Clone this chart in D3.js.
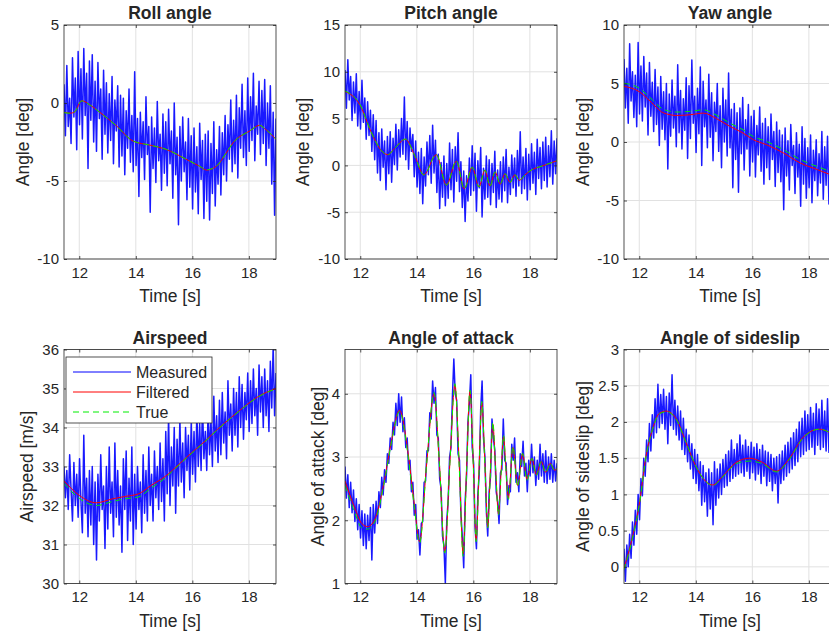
<!DOCTYPE html>
<html>
<head>
<meta charset="UTF-8">
<title></title>
<style>
body { margin: 0; background: #fff; }
text { font-family: "Liberation Sans", Arial, Helvetica, sans-serif; fill: #262626; }
</style>
</head>
<body>
<svg width="829" height="635"></svg>
<script src="https://cdn.jsdelivr.net/npm/d3@7/dist/d3.min.js"></script>
<script>
// sample times of the measured signals, 50 ms apart
var time = d3.range(151).map(function (i) { return 11.46 + i * 0.05; });
var timeRange = [11.46, 18.96];
var timeTicks = [12, 14, 16, 18];

// ---- roll
var rollTicks = [-10, -5, 0, 5];
var rollMeasured = [1.2,-2.1,2.4,-1.5,0.3,-2.6,2.9,-0.9,1.6,-3.0,3.3,
 -1.4,2.2,-2.3,3.5,-0.8,1.9,-4.2,2.7,-1.1,3.1,
 -2.5,1.4,-3.1,2.6,-1.0,0.9,-3.6,2.1,-2.0,1.3,
 -3.2,0.6,-2.4,1.7,-3.9,0.2,-1.8,1.1,-4.1,0.5,
 -3.4,0.3,-4.6,-0.5,-2.9,0.9,-3.8,-0.8,-4.4,2.0,
 -4.0,-1.0,-6.0,-0.6,-3.5,-1.2,-4.9,0.4,-3.3,-1.5,
 -7.0,-0.9,-4.2,-1.6,-5.1,0.1,-3.7,-2.0,-5.6,-0.7,
 -4.5,-1.2,-5.3,-0.4,-3.9,-1.8,-6.1,0.0,-4.6,-2.2,
 -7.8,-1.5,-5.0,-0.9,-4.4,-2.5,-6.2,-1.0,-5.4,-2.1,
 -6.8,-1.6,-5.7,-2.8,-7.1,-1.3,-4.9,-2.4,-7.4,-2.0,
 -6.3,-1.8,-7.5,-2.6,-5.8,-1.2,-6.6,-3.0,-5.2,-1.5,
 -5.9,-1.9,-4.6,-0.8,-5.0,-1.4,-3.6,0.2,-4.4,-1.1,
 -3.9,0.5,-4.8,-0.3,-2.9,1.2,-3.5,-0.5,-4.0,1.6,
 -3.1,0.4,-2.4,1.9,-3.7,-0.2,-2.0,1.4,-3.3,0.8,
 -2.6,1.5,-4.0,0.0,-2.9,1.1,-5.2,-0.6,-7.2,-1.0];
var rollKnotT = [11.46,11.7,11.85,12.08,12.4,12.73,13.32,13.9,14.5,15.08,15.67,16.26,16.5,16.85,17.2,17.44,18.02,18.38,18.6,18.96];
var rollFiltered = [-0.6,-0.65,-0.55,0.15,-0.15,-0.6,-1.47,-2.44,-2.7,-2.98,-3.5,-4.06,-4.3,-4.06,-3.2,-2.55,-1.8,-1.43,-1.7,-2.33];
var rollTrue = [-0.62,-0.66,-0.55,0.13,-0.16,-0.6,-1.48,-2.43,-2.7,-2.97,-3.5,-4.05,-4.28,-4.05,-3.2,-2.56,-1.8,-1.44,-1.7,-2.32];

// ---- pitch
var pitchTicks = [-10, -5, 0, 5, 10, 15];
var pitchMeasured = [10.2,6.1,11.3,7.0,9.5,4.8,8.9,5.6,9.8,4.2,7.9,
 3.9,9.1,4.6,7.2,2.8,6.8,3.2,5.9,1.5,5.4,
 0.6,4.8,-0.8,3.5,-1.6,3.9,-0.2,2.6,-2.6,3.1,
 -0.9,3.6,-1.8,2.9,0.1,4.4,-0.5,3.8,0.9,5.0,
 1.2,7.3,0.6,4.7,-0.4,4.0,1.5,3.3,-1.2,2.6,
 -2.3,1.4,-3.0,1.8,-4.1,0.9,-2.2,2.5,-1.0,3.2,
 -1.9,4.3,-0.8,2.7,-2.9,1.2,-4.6,0.3,-3.4,1.0,
 -4.3,0.2,-3.5,2.4,-2.6,1.7,-3.9,2.0,-1.7,3.5,
 -2.8,0.4,-4.5,-0.6,-6.0,-1.1,-3.8,0.8,-3.2,2.1,
 -2.7,1.3,-4.9,0.5,-2.4,1.9,-5.5,-0.3,-3.6,1.0,
 -3.4,0.6,-4.2,0.2,-2.9,1.5,-4.5,-0.5,-3.6,0.4,
 -3.9,0.9,-2.7,1.7,-4.0,-0.2,-3.1,1.1,-2.4,0.8,
 -3.3,1.6,-2.2,3.6,-3.0,0.9,-2.5,1.8,-3.7,1.2,
 -2.6,2.3,-1.9,1.4,-3.1,2.8,-1.4,1.9,-2.5,2.5,
 -1.6,3.0,-2.3,2.1,-1.2,3.7,-2.0,2.6,-0.9,2.9];
var pitchKnotT = [11.46,12.0,12.38,12.74,12.97,13.21,13.6,13.92,14.25,14.69,15.05,15.4,15.68,15.96,16.2,16.41,16.59,16.77,16.95,17.12,17.3,17.47,17.63,17.8,18.0,18.5,18.96];
var pitchFiltered = [7.9,6.4,3.6,1.6,1.15,1.8,2.8,1.1,-1.0,1.15,-2.1,0.45,-2.5,-0.2,-2.3,-0.5,-2.2,-0.7,-2.0,-0.9,-1.8,-1.0,-1.6,-1.1,-0.6,0.0,0.5];
var pitchTrue = [7.95,6.45,3.6,1.6,1.12,1.8,2.82,1.1,-1.02,1.18,-2.12,0.48,-2.52,-0.18,-2.32,-0.48,-2.22,-0.68,-2.02,-0.88,-1.82,-0.98,-1.62,-1.1,-0.6,0.0,0.5];

// ---- yaw
var yawTicks = [-10, -5, 0, 5, 10];
var yawMeasured = [7.1,2.9,6.3,1.6,8.4,3.5,6.0,2.1,5.7,1.3,8.5,
 2.4,6.5,1.8,7.3,3.0,5.9,0.6,6.8,2.2,5.1,
 0.9,6.2,1.5,4.7,-0.3,5.6,1.1,4.3,0.2,5.0,
 -2.3,4.1,0.5,5.3,1.2,3.9,-0.4,6.6,0.8,4.4,
 -0.6,3.7,1.0,5.5,-1.4,4.8,0.3,7.0,1.6,3.9,
 -0.9,4.6,0.7,6.4,-2.0,5.2,1.3,3.6,-0.5,5.8,
 0.4,4.2,-1.6,3.4,0.9,5.0,-0.8,3.1,-2.2,4.6,
 0.0,3.6,-1.2,5.9,-0.5,2.8,-3.9,3.3,-1.5,2.5,
 -4.3,2.9,-1.0,3.8,-2.4,1.9,-0.6,3.2,-2.9,2.2,
 -1.7,2.7,-3.0,1.4,-1.1,3.0,-2.5,1.6,-3.6,2.0,
 -2.2,1.3,-3.2,2.4,-1.5,0.9,-3.8,1.7,-2.6,1.0,
 -3.4,0.6,-5.8,1.2,-2.9,0.1,-4.1,1.5,-2.0,-0.3,
 -4.4,0.8,-3.0,-0.2,-5.5,1.3,-3.6,0.3,-4.8,-0.5,
 -3.9,0.6,-5.2,-0.7,-3.3,0.2,-4.6,-1.0,-3.5,0.9,
 -4.9,-0.4,-3.7,0.5,-5.3,-1.2,-7.0,-0.8,-4.2,-1.6];
var yawKnotT = [11.46,12.0,12.38,12.85,13.32,13.8,14.27,14.73,15.2,15.67,16.03,16.5,17.1,17.7,18.3,18.7,18.96];
var yawFiltered = [4.75,4.3,3.5,2.5,2.27,2.33,2.47,2.0,1.34,0.77,0.2,-0.23,-0.94,-1.8,-2.36,-2.73,-2.9];
var yawTrue = [5.03,4.6,3.8,2.8,2.56,2.62,2.75,2.3,1.62,1.05,0.48,0.05,-0.65,-1.5,-2.1,-2.45,-2.6];

// ---- airspeed
var airTicks = [30, 31, 32, 33, 34, 35, 36];
var airMeasured = [33.0,32.2,32.9,31.9,33.3,32.4,31.6,33.1,32.0,32.8,31.7,
 33.2,32.1,31.3,33.8,31.8,32.7,31.2,32.9,31.5,33.0,
 31.0,32.6,30.6,32.8,31.6,33.3,31.9,32.5,30.9,33.0,
 31.4,33.5,31.8,32.6,31.2,33.6,31.7,32.9,31.5,32.5,
 30.8,33.2,31.9,33.4,31.1,32.7,31.6,33.5,31.0,32.8,
 31.4,33.0,31.9,32.6,31.3,33.3,31.8,32.9,31.6,33.5,
 32.0,32.8,31.6,33.4,32.2,33.0,31.9,33.6,32.1,33.2,
 31.6,33.9,32.3,34.3,32.0,33.5,32.5,34.0,31.8,33.7,
 32.5,34.2,32.6,33.6,32.2,34.0,32.9,33.8,32.4,34.1,
 32.8,33.9,32.6,34.4,33.0,34.1,32.9,34.6,33.2,33.9,
 32.9,34.5,33.3,34.2,33.0,34.8,33.4,34.3,33.1,34.7,
 33.3,34.9,33.6,34.4,33.2,35.2,33.8,34.6,33.4,35.0,
 33.8,34.9,33.5,35.3,34.0,35.1,33.7,34.9,34.2,35.4,
 33.9,35.2,34.1,35.5,34.3,35.0,33.8,35.6,34.4,35.3,
 34.0,35.5,34.3,35.2,33.9,35.7,34.5,36.1,34.3,35.4];
var airKnotT = [11.46,12.0,12.6,13.17,13.6,14.1,14.55,15.03,15.5,15.97,16.45,16.9,17.38,17.85,18.3,18.96];
var airFiltered = [32.63,32.26,32.07,32.17,32.23,32.3,32.52,32.74,33.04,33.35,33.65,33.96,34.26,34.54,34.78,35.0];
var airTrue = [32.57,32.18,32.0,32.1,32.17,32.22,32.45,32.7,33.02,33.33,33.64,33.95,34.25,34.53,34.77,34.99];

// ---- angle of attack
var aoaTicks = [1, 2, 3, 4];
var aoaMeasured = [2.85,2.35,2.72,2.2,2.6,2.12,2.48,1.98,2.34,1.85,2.25,
 1.72,2.15,1.6,2.1,1.55,2.08,1.68,2.2,1.37,2.25,
 1.8,2.3,1.95,2.45,2.2,2.68,2.4,2.8,2.6,3.05,
 2.9,3.3,3.12,3.55,3.35,3.85,3.5,4.0,3.55,3.95,
 3.4,3.62,3.15,3.3,2.8,2.95,2.45,2.6,2.08,2.25,
 1.7,1.85,1.45,1.95,1.98,2.6,2.62,3.1,3.1,3.7,
 3.6,4.2,3.85,4.1,3.35,3.3,2.65,2.5,1.75,1.6,
 1.0,2.0,2.3,3.0,3.15,3.95,4.55,4.0,3.9,3.05,
 2.95,2.1,1.75,1.25,2.3,2.7,3.55,3.85,4.3,3.15,
 2.9,1.9,1.55,2.4,2.75,3.75,4.2,3.3,3.0,2.15,
 1.75,2.45,2.7,3.6,3.3,3.1,2.45,2.3,1.95,2.75,
 2.8,3.6,2.95,2.9,2.25,2.55,2.45,3.2,2.95,3.3,
 2.6,2.75,2.45,3.05,2.85,3.25,2.7,2.9,2.45,2.95,
 2.7,3.2,2.75,3.0,2.55,2.95,2.65,3.2,2.7,3.05,
 2.6,3.1,2.58,3.0,2.65,3.05,2.6,2.95,2.62,2.9];
var aoaKnotT = [11.46,11.8,12.05,12.26,12.5,12.85,13.1,13.39,13.68,13.9,14.1,14.35,14.61,14.8,14.99,15.17,15.35,15.5,15.64,15.76,15.88,16.0,16.1,16.2,16.3,16.41,16.51,16.6,16.69,16.79,16.89,16.98,17.07,17.15,17.24,17.4,17.57,17.74,17.9,18.07,18.23,18.4,18.56,18.72,18.88,18.96];
var aoaFiltered = [2.62,2.2,1.95,1.9,2.0,2.62,3.25,3.74,3.1,2.3,1.66,2.9,4.0,2.9,1.5,2.9,4.14,2.9,1.47,2.8,4.04,2.9,1.68,2.8,3.86,2.9,1.9,2.75,3.52,2.8,2.1,2.75,3.32,2.85,2.35,3.15,2.55,3.05,2.65,2.98,2.72,2.93,2.76,2.9,2.79,2.82];
var aoaTrue = [2.55,2.13,1.88,1.86,1.96,2.6,3.22,3.72,3.05,2.25,1.64,2.9,4.02,2.9,1.48,2.9,4.16,2.85,1.43,2.75,4.06,2.85,1.66,2.75,3.88,2.85,1.88,2.7,3.55,2.8,2.08,2.72,3.34,2.82,2.33,3.17,2.53,3.06,2.63,2.98,2.71,2.93,2.75,2.9,2.78,2.82];

// ---- angle of sideslip
var betaTicks = [0, 0.5, 1, 1.5, 2, 2.5, 3];
var betaMeasured = [0.25,-0.2,0.3,0.0,0.45,0.12,0.62,0.3,0.78,0.45,1.0,
 0.65,1.22,0.98,1.5,1.25,1.75,1.45,1.98,1.6,2.1,
 1.78,2.32,1.85,2.52,1.92,2.38,1.98,2.45,1.9,2.35,
 1.7,2.4,1.95,2.65,1.9,2.3,1.82,2.22,1.75,2.15,
 1.62,2.05,1.55,1.9,1.45,1.82,1.35,1.7,1.22,1.62,
 1.15,1.55,1.05,1.45,0.85,1.4,0.9,1.3,0.7,1.35,
 0.8,1.3,0.58,1.45,0.85,1.35,0.95,1.42,1.0,1.48,
 1.1,1.55,1.12,1.6,1.18,1.75,1.22,1.62,1.25,1.7,
 1.28,1.82,1.3,1.68,1.25,1.75,1.32,1.66,1.22,1.72,
 1.3,1.65,1.2,1.7,1.28,1.62,1.15,1.68,1.25,1.6,
 1.12,1.58,1.18,1.55,1.05,1.5,1.15,1.52,0.88,1.55,
 1.15,1.6,1.2,1.68,1.25,1.72,1.3,1.78,1.35,1.85,
 1.4,1.9,1.45,2.0,1.52,2.05,1.55,2.15,1.6,2.1,
 1.62,2.2,1.65,2.12,1.55,2.25,1.68,2.18,1.62,2.3,
 1.65,2.15,1.6,2.32,1.58,2.1,1.55,2.05,1.5,2.0];
var betaKnotT = [11.46,11.76,12.0,12.24,12.47,12.71,12.95,13.3,13.65,14.0,14.35,14.6,14.95,15.42,15.9,16.37,16.85,17.3,17.8,18.37,18.7,18.96];
var betaFiltered = [-0.02,0.41,0.86,1.53,1.9,2.12,2.15,2.05,1.72,1.39,1.18,1.13,1.25,1.44,1.5,1.44,1.32,1.49,1.79,1.9,1.86,1.78];
var betaTrue = [-0.04,0.39,0.85,1.52,1.9,2.11,2.14,2.04,1.72,1.39,1.18,1.12,1.24,1.42,1.46,1.42,1.31,1.48,1.78,1.9,1.86,1.78];

var pw = 212, ph = 234;
var panels = [
  { title: 'Roll angle', ylabel: 'Angle [deg]', x: 64, y: 25, dom: [-10, 5], ticks: rollTicks, meas: rollMeasured, kt: rollKnotT, filt: rollFiltered, tru: rollTrue, lab: 41 },
  { title: 'Pitch angle', ylabel: 'Angle [deg]', x: 345, y: 25, dom: [-10, 15], ticks: pitchTicks, meas: pitchMeasured, kt: pitchKnotT, filt: pitchFiltered, tru: pitchTrue, lab: 42 },
  { title: 'Yaw angle', ylabel: 'Angle [deg]', x: 624, y: 25, dom: [-10, 10], ticks: yawTicks, meas: yawMeasured, kt: yawKnotT, filt: yawFiltered, tru: yawTrue, lab: 41 },
  { title: 'Airspeed', ylabel: 'Airspeed [m/s]', x: 64, y: 349.5, dom: [30, 36], ticks: airTicks, meas: airMeasured, kt: airKnotT, filt: airFiltered, tru: airTrue, lab: 37, legend: true },
  { title: 'Angle of attack', ylabel: 'Angle of attack [deg]', x: 345, y: 349.5, dom: [1, 4.7], ticks: aoaTicks, meas: aoaMeasured, kt: aoaKnotT, filt: aoaFiltered, tru: aoaTrue, lab: 27 },
  { title: 'Angle of sideslip', ylabel: 'Angle of sideslip [deg]', x: 624, y: 349.5, dom: [-0.23, 3], ticks: betaTicks, meas: betaMeasured, kt: betaKnotT, filt: betaFiltered, tru: betaTrue, lab: 41 }
];

var svg = d3.select('svg');
var axisCol = '#262626';

panels.forEach(function (p, k) {
  var x = d3.scaleLinear().domain(timeRange).range([0, pw]);
  var y = d3.scaleLinear().domain(p.dom).range([ph, 0]);
  var g = svg.append('g').attr('transform', 'translate(' + p.x + ',' + p.y + ')');

  g.append('rect').attr('width', pw).attr('height', ph).attr('fill', '#fff');

  // grid
  g.selectAll('.gx').data(timeTicks).enter().append('line')
    .attr('x1', x).attr('x2', x).attr('y1', 0).attr('y2', ph)
    .attr('stroke', '#e1e1e1').attr('stroke-width', 1);
  g.selectAll('.gy').data(p.ticks).enter().append('line')
    .attr('y1', y).attr('y2', y).attr('x1', 0).attr('x2', pw)
    .attr('stroke', '#e1e1e1').attr('stroke-width', 1);

  g.append('clipPath').attr('id', 'clip' + k)
    .append('rect').attr('width', pw).attr('height', ph);
  var plot = g.append('g').attr('clip-path', 'url(#clip' + k + ')');

  var measLine = d3.line().x(function (d, i) { return x(time[i]); }).y(function (d) { return y(d); });
  var smooth = d3.line().x(function (d, i) { return x(p.kt[i]); }).y(function (d) { return y(d); }).curve(d3.curveMonotoneX);

  plot.append('path').datum(p.meas).attr('d', measLine)
    .attr('fill', 'none').attr('stroke', '#0000ff').attr('stroke-width', 1.5)
    .attr('stroke-opacity', 0.9).attr('stroke-linejoin', 'round');
  plot.append('path').datum(p.filt).attr('d', smooth)
    .attr('fill', 'none').attr('stroke', '#ff0000').attr('stroke-width', 1);
  plot.append('path').datum(p.tru).attr('d', smooth)
    .attr('fill', 'none').attr('stroke', '#00ee00').attr('stroke-width', 1).attr('stroke-dasharray', '6,4');

  // axes with inward ticks
  var fmt = function (d) { return String(d); };
  var ax = g.append('g').attr('transform', 'translate(0,' + ph + ')')
    .call(d3.axisBottom(x).tickValues(timeTicks).tickFormat(fmt).tickSizeInner(-3).tickSizeOuter(0).tickPadding(8));
  var ay = g.append('g')
    .call(d3.axisLeft(y).tickValues(p.ticks).tickFormat(fmt).tickSizeInner(-3).tickSizeOuter(0).tickPadding(5));
  var at = g.append('g')
    .call(d3.axisTop(x).tickValues(timeTicks).tickFormat('').tickSizeInner(-3).tickSizeOuter(0));
  var ar = g.append('g').attr('transform', 'translate(' + pw + ',0)')
    .call(d3.axisRight(y).tickValues(p.ticks).tickFormat('').tickSizeInner(-3).tickSizeOuter(0));
  [ax, ay, at, ar].forEach(function (a) {
    a.select('.domain').remove();
    a.selectAll('.tick line').attr('stroke', axisCol).attr('stroke-width', 0.8);
    a.selectAll('.tick text').attr('font-size', 15).attr('fill', axisCol)
      .style('font-family', '"Liberation Sans", Arial, sans-serif');
  });

  g.append('rect').attr('width', pw).attr('height', ph)
    .attr('fill', 'none').attr('stroke', axisCol).attr('stroke-width', 0.8);

  g.append('text').attr('x', pw / 2).attr('y', -6).attr('text-anchor', 'middle')
    .attr('font-size', 17.5).attr('font-weight', 'bold').attr('fill', '#000').text(p.title);
  g.append('text').attr('x', pw / 2).attr('y', ph + 43).attr('text-anchor', 'middle')
    .attr('font-size', 17.5).text('Time [s]');
  g.append('text').attr('transform', 'translate(' + (-p.lab) + ',' + (ph / 2) + ') rotate(-90)')
    .attr('text-anchor', 'middle').attr('dominant-baseline', 'central')
    .attr('font-size', 17.5).text(p.ylabel);

  if (p.legend) {
    var items = [
      { name: 'Measured', color: '#0000ff', dash: null },
      { name: 'Filtered', color: '#ff0000', dash: null },
      { name: 'True', color: '#00ee00', dash: '6,4' }
    ];
    var lg = g.append('g').attr('transform', 'translate(2,7.5)');
    lg.append('rect').attr('width', 146).attr('height', 66)
      .attr('fill', '#fff').attr('stroke', axisCol).attr('stroke-width', 0.8);
    items.forEach(function (it, j) {
      var yy = 15 + j * 20;
      lg.append('line').attr('x1', 7).attr('x2', 65).attr('y1', yy).attr('y2', yy)
        .attr('stroke', it.color).attr('stroke-width', 1).attr('stroke-dasharray', it.dash);
      lg.append('text').attr('x', 70).attr('y', yy + 5.5).attr('font-size', 16).text(it.name);
    });
  }
});
</script>
</body>
</html>
